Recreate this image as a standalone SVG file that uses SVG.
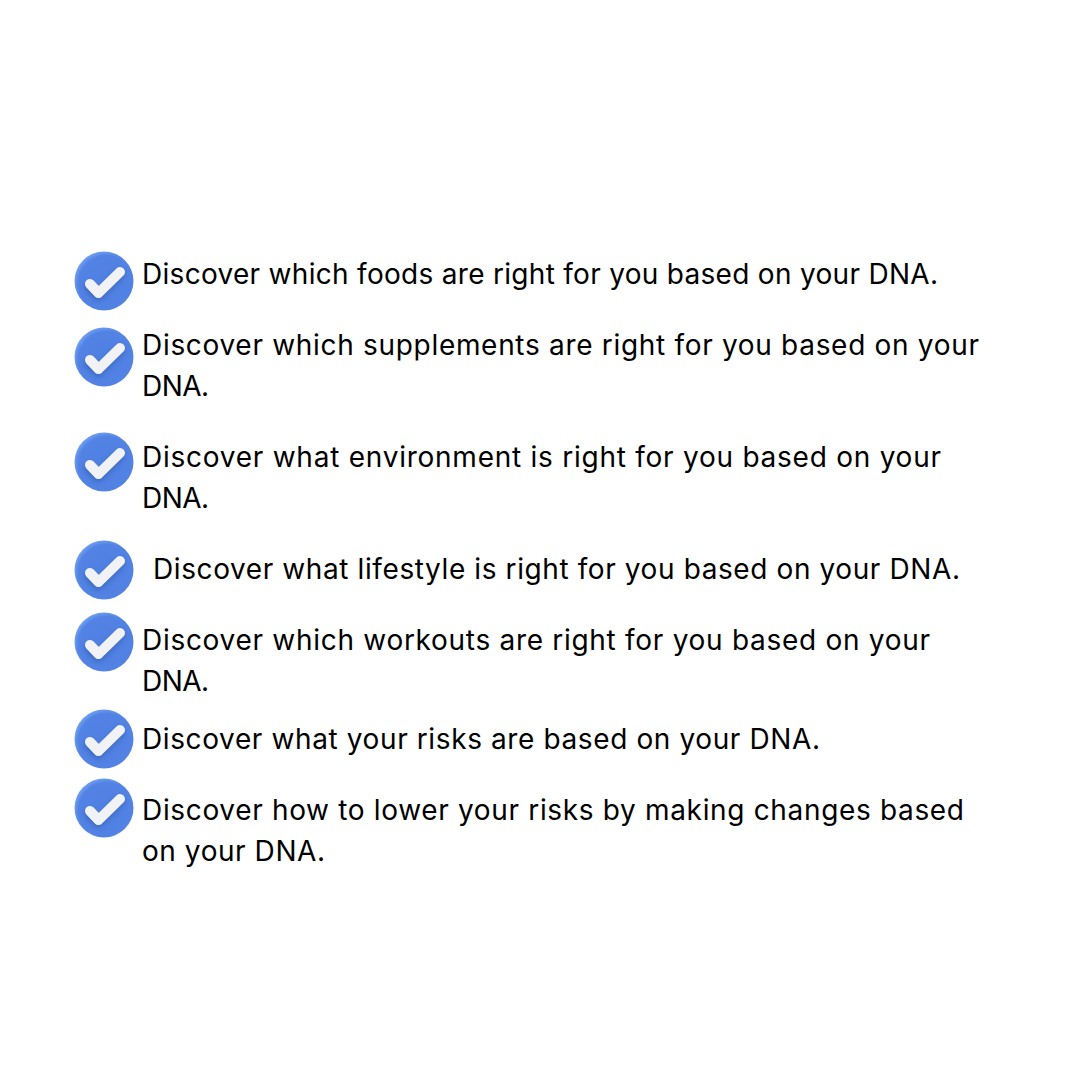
<svg xmlns="http://www.w3.org/2000/svg" width="1080" height="1080" viewBox="0 0 1080 1080">
<style>text{font-family:Inter,"Noto Sans",sans-serif;font-size:28px;fill:#000}</style>
<defs>
<radialGradient id="b" cx="0.55" cy="0.55" r="0.55"><stop offset="0" stop-color="#4f7fe2"/><stop offset="0.88" stop-color="#5283e4"/><stop offset="1" stop-color="#6b9bf0"/></radialGradient>
<filter id="s" x="-40%" y="-40%" width="180%" height="180%"><feGaussianBlur stdDeviation="2.500"/></filter>
<g id="c"><circle cx="0" cy="0" r="29.5" fill="url(#b)"/>
<path d="M-15 6L-6 15L16-7" fill="none" stroke="#2f55a8" stroke-opacity="0.55" stroke-width="10" stroke-linecap="round" stroke-linejoin="round" filter="url(#s)"/>
<path d="M-14 3L-5.500 12L16-9" fill="none" stroke="#f1f2f5" stroke-width="10" stroke-linecap="round" stroke-linejoin="round"/></g>
</defs>
<rect width="1080" height="1080" fill="#fff"/>
<g id="item1"><use href="#c" x="104" y="281"/><text x="142" y="284" textLength="796">Discover which foods are right for you based on your DNA.</text></g>
<g id="item2"><use href="#c" x="104" y="357"/><text x="142" y="355" textLength="837">Discover which supplements are right for you based on your</text><text x="142" y="396" textLength="67">DNA.</text></g>
<g id="item3"><use href="#c" x="104" y="462"/><text x="142" y="467" textLength="799">Discover what environment is right for you based on your</text><text x="142" y="508" textLength="67">DNA.</text></g>
<g id="item4"><use href="#c" x="104" y="570"/><text x="153" y="579" textLength="807">Discover what lifestyle is right for you based on your DNA.</text></g>
<g id="item5"><use href="#c" x="104" y="642"/><text x="142" y="650" textLength="788">Discover which workouts are right for you based on your</text><text x="142" y="691" textLength="67">DNA.</text></g>
<g id="item6"><use href="#c" x="104" y="739"/><text x="142" y="749" textLength="678">Discover what your risks are based on your DNA.</text></g>
<g id="item7"><use href="#c" x="104" y="808"/><text x="142" y="820" textLength="822">Discover how to lower your risks by making changes based</text><text x="142" y="861" textLength="183">on your DNA.</text></g>
</svg>
